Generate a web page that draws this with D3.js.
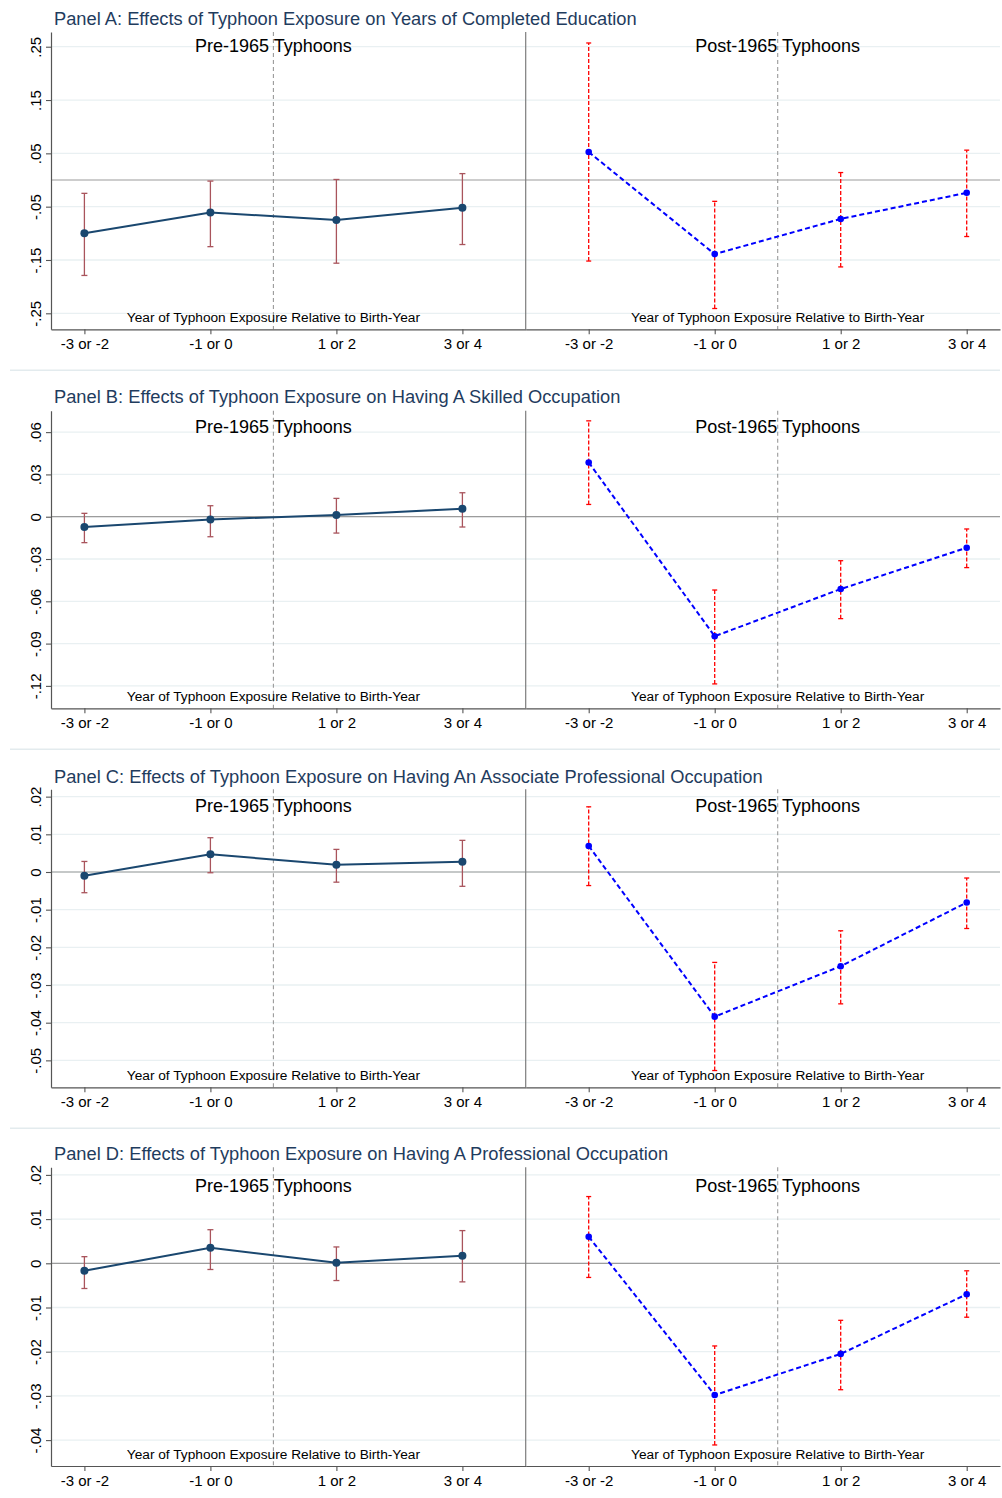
<!DOCTYPE html>
<html>
<head>
<meta charset="utf-8">
<script src="https://cdn.jsdelivr.net/npm/d3@7"></script>
<style>
  html, body { margin: 0; padding: 0; background: #fff; }
  svg { display: block; }
  text { font-family: "Liberation Sans", Arial, Helvetica, sans-serif; }
</style>
</head>
<body>
<script>
// ---------------- DATA ----------------
const categories = ["-3 or -2", "-1 or 0", "1 or 2", "3 or 4"];

const panelTitles = [
  "Panel A: Effects of Typhoon Exposure on Years of Completed Education",
  "Panel B: Effects of Typhoon Exposure on Having A Skilled Occupation",
  "Panel C: Effects of Typhoon Exposure on Having An Associate Professional Occupation",
  "Panel D: Effects of Typhoon Exposure on Having A Professional Occupation"
];
const preLabel = "Pre-1965 Typhoons";
const postLabel = "Post-1965 Typhoons";
const xAxisTitle = "Year of Typhoon Exposure Relative to Birth-Year";

// y-axis ticks and ranges
const yTicksA = [0.25, 0.15, 0.05, -0.05, -0.15, -0.25];
const yTickLabelsA = [".25", ".15", ".05", "-.05", "-.15", "-.25"];
const yRangeA = [-0.280, 0.2776];

const yTicksB = [0.06, 0.03, 0, -0.03, -0.06, -0.09, -0.12];
const yTickLabelsB = [".06", ".03", "0", "-.03", "-.06", "-.09", "-.12"];
const yRangeB = [-0.1359, 0.0752];

const yTicksC = [0.02, 0.01, 0, -0.01, -0.02, -0.03, -0.04, -0.05];
const yTickLabelsC = [".02", ".01", "0", "-.01", "-.02", "-.03", "-.04", "-.05"];
const yRangeC = [-0.05715, 0.02195];

const yTicksD = [0.02, 0.01, 0, -0.01, -0.02, -0.03, -0.04];
const yTickLabelsD = [".02", ".01", "0", "-.01", "-.02", "-.03", "-.04"];
const yRangeD = [-0.04586, 0.02172];

// Panel A: years of completed education
const preA    = [-0.100, -0.061, -0.075, -0.052];
const preA_lo = [-0.179, -0.125, -0.156, -0.121];
const preA_hi = [-0.025, -0.002,  0.001,  0.012];
const postA    = [ 0.0525, -0.139, -0.073, -0.024];
const postA_lo = [-0.152,  -0.241, -0.163, -0.106];
const postA_hi = [ 0.257,  -0.040,  0.014,  0.056];

// Panel B: skilled occupation
const preB    = [-0.0073, -0.0019, 0.0012, 0.0057];
const preB_lo = [-0.0184, -0.0142, -0.0116, -0.0073];
const preB_hi = [ 0.0024,  0.0078,  0.0130,  0.0170];
const postB    = [0.0385, -0.0848, -0.0513, -0.0220];
const postB_lo = [0.0087, -0.1186, -0.0723, -0.0361];
const postB_hi = [0.0680, -0.0520, -0.0312, -0.0087];

// Panel C: associate professional occupation
const preC    = [-0.0010, 0.0047, 0.0019, 0.0027];
const preC_lo = [-0.0055, -0.0002, -0.0027, -0.0038];
const preC_hi = [ 0.0028,  0.0091,  0.0060,  0.0084];
const postC    = [ 0.0069, -0.0384, -0.0250, -0.0081];
const postC_lo = [-0.0036, -0.0527, -0.0350, -0.0150];
const postC_hi = [ 0.0173, -0.0240, -0.0156, -0.0016];

// Panel D: professional occupation
const preD    = [-0.0017, 0.0035, 0.0001, 0.0017];
const preD_lo = [-0.0057, -0.0014, -0.0039, -0.0042];
const preD_hi = [ 0.0015,  0.0076,  0.0037,  0.0074];
const postD    = [ 0.0060, -0.0298, -0.0205, -0.0070];
const postD_lo = [-0.0032, -0.0411, -0.0286, -0.0122];
const postD_hi = [ 0.0151, -0.0187, -0.0129, -0.0017];

// ---------------- ASSEMBLY ----------------
const panels = [
  { title: panelTitles[0], ticks: yTicksA, labels: yTickLabelsA, range: yRangeA,
    pre: [preA, preA_lo, preA_hi], post: [postA, postA_lo, postA_hi] },
  { title: panelTitles[1], ticks: yTicksB, labels: yTickLabelsB, range: yRangeB,
    pre: [preB, preB_lo, preB_hi], post: [postB, postB_lo, postB_hi] },
  { title: panelTitles[2], ticks: yTicksC, labels: yTickLabelsC, range: yRangeC,
    pre: [preC, preC_lo, preC_hi], post: [postC, postC_lo, postC_hi] },
  { title: panelTitles[3], ticks: yTicksD, labels: yTickLabelsD, range: yRangeD,
    pre: [preD, preD_lo, preD_hi], post: [postD, postD_lo, postD_hi] }
];

// layout (pixels)
const W = 1002, H = 1498;
const plotTops    = [32, 410.7, 789.3, 1167.3];
const plotBottoms = [329.3, 708.3, 1087.3, 1466];
const titleBase   = [25, 403.3, 782.7, 1160];
const subBase     = [52.3, 432.7, 812.3, 1192.3];
const sepLines    = [370.3, 749.3, 1128.3];
const xLeft0 = 51, xMid = 525.7, xRight1 = 1000;

const NAVY = "#1a476f", MAROON = "#a9545c", BLUE = "#0000ff", RED = "#ff0000";
const AXIS = "#555", GRID = "#e9f0f2";

const svg = d3.select("body").append("svg")
  .attr("width", W).attr("height", H)
  .attr("viewBox", `0 0 ${W} ${H}`);
svg.append("rect").attr("width", W).attr("height", H).attr("fill", "#fff");

// panel separators
svg.selectAll("line.sep").data(sepLines).enter().append("line")
  .attr("class", "sep")
  .attr("x1", 10).attr("x2", 1000)
  .attr("y1", d => d).attr("y2", d => d)
  .attr("stroke", "#e3ebee").attr("stroke-width", 1.5);

// x scales (category index -> px)
const idx = d3.range(categories.length);
const xL = d3.scaleLinear().domain([0, 3]).range([84.4, 462.4]);
const xR = d3.scaleLinear().domain([0, 3]).range([588.7, 966.7]);
const xLaxis = xL.copy().domain([xL.invert(xLeft0), xL.invert(xMid)]).range([xLeft0, xMid]);
const xRaxis = xR.copy().domain([xR.invert(xMid), xR.invert(xRight1)]).range([xMid, xRight1]);

panels.forEach((p, k) => {
  const top = plotTops[k], bottom = plotBottoms[k];
  const y = d3.scaleLinear().domain(p.range).range([bottom, top]);
  const g = svg.append("g");

  // gridlines
  g.selectAll("line.grid").data(p.ticks).enter().append("line")
    .attr("x1", xLeft0).attr("x2", xRight1)
    .attr("y1", d => y(d)).attr("y2", d => y(d))
    .attr("stroke", GRID).attr("stroke-width", 1.3);

  // zero line
  g.append("line")
    .attr("x1", xLeft0).attr("x2", xRight1)
    .attr("y1", y(0)).attr("y2", y(0))
    .attr("stroke", "#9c9c9c").attr("stroke-width", 1.2);

  // dashed vertical reference lines
  [xL(1.5), xR(1.5)].forEach(xx => {
    g.append("line")
      .attr("x1", xx).attr("x2", xx).attr("y1", top).attr("y2", bottom)
      .attr("stroke", "#9a9a9a").attr("stroke-width", 1.1)
      .attr("stroke-dasharray", "4,3");
  });

  // right panel y-axis line
  g.append("line")
    .attr("x1", xMid).attr("x2", xMid).attr("y1", top).attr("y2", bottom)
    .attr("stroke", "#7d7d7d").attr("stroke-width", 1.2);

  // left y axis
  const ya = g.append("g").attr("transform", `translate(${xLeft0},0)`)
    .call(d3.axisLeft(y).tickValues(p.ticks).tickSize(5).tickSizeOuter(0)
      .tickFormat((d, i) => p.labels[i]));
  ya.select(".domain").attr("stroke", AXIS).attr("stroke-width", 1.2);
  ya.selectAll(".tick line").attr("stroke", AXIS).attr("stroke-width", 1.1);
  ya.selectAll(".tick text")
    .attr("x", null).attr("dy", null)
    .attr("transform", "translate(-10,0) rotate(-90)")
    .attr("text-anchor", "middle")
    .attr("font-size", 15).attr("fill", "#000");

  // x axes
  [[xLaxis, xLeft0], [xRaxis, xMid]].forEach(([sc]) => {
    const xa = g.append("g").attr("transform", `translate(0,${bottom})`)
      .call(d3.axisBottom(sc).tickValues(idx).tickSize(5).tickSizeOuter(0)
        .tickFormat(i => categories[i]));
    xa.select(".domain").attr("stroke", AXIS).attr("stroke-width", 1.2);
    xa.selectAll(".tick line").attr("stroke", AXIS).attr("stroke-width", 1.1);
    xa.selectAll(".tick text").attr("y", 20).attr("dy", null)
      .attr("font-size", 15).attr("fill", "#000");
  });

  // titles
  g.append("text").attr("x", 54).attr("y", titleBase[k])
    .attr("font-size", 18.3).attr("fill", "#1f3c5e").text(p.title);
  g.append("text").attr("x", xL(1.5)).attr("y", subBase[k])
    .attr("text-anchor", "middle").attr("font-size", 18).attr("fill", "#000").text(preLabel);
  g.append("text").attr("x", xR(1.5)).attr("y", subBase[k])
    .attr("text-anchor", "middle").attr("font-size", 18).attr("fill", "#000").text(postLabel);
  [xL(1.5), xR(1.5)].forEach(xx => {
    g.append("text").attr("x", xx).attr("y", bottom - 7)
      .attr("text-anchor", "middle").attr("font-size", 13.7).attr("fill", "#000").text(xAxisTitle);
  });

  // series drawer
  function drawSeries(x, vals, opts) {
    const [est, lo, hi] = vals;
    const s = g.append("g");
    s.selectAll("line.bar").data(idx).enter().append("line")
      .attr("x1", i => x(i)).attr("x2", i => x(i))
      .attr("y1", i => y(lo[i])).attr("y2", i => y(hi[i]))
      .attr("stroke", opts.barColor).attr("stroke-width", 1.3)
      .attr("stroke-dasharray", opts.barDash);
    [lo, hi].forEach(arr => {
      s.selectAll(null).data(idx).enter().append("line")
        .attr("x1", i => x(i) - opts.cap).attr("x2", i => x(i) + opts.cap)
        .attr("y1", i => y(arr[i])).attr("y2", i => y(arr[i]))
        .attr("stroke", opts.barColor).attr("stroke-width", 1.3);
    });
    s.append("path")
      .attr("d", d3.line().x(i => x(i)).y(i => y(est[i]))(idx))
      .attr("fill", "none").attr("stroke", opts.lineColor).attr("stroke-width", 2)
      .attr("stroke-dasharray", opts.lineDash);
    s.selectAll("circle").data(idx).enter().append("circle")
      .attr("cx", i => x(i)).attr("cy", i => y(est[i]))
      .attr("r", opts.r).attr("fill", opts.lineColor);
  }

  drawSeries(xL, p.pre, { barColor: MAROON, barDash: null, cap: 3, lineColor: NAVY, lineDash: null, r: 4 });
  drawSeries(xR, p.post, { barColor: RED, barDash: "4,2", cap: 2.5, lineColor: BLUE, lineDash: "5,3", r: 3.3 });
});
</script>
</body>
</html>
